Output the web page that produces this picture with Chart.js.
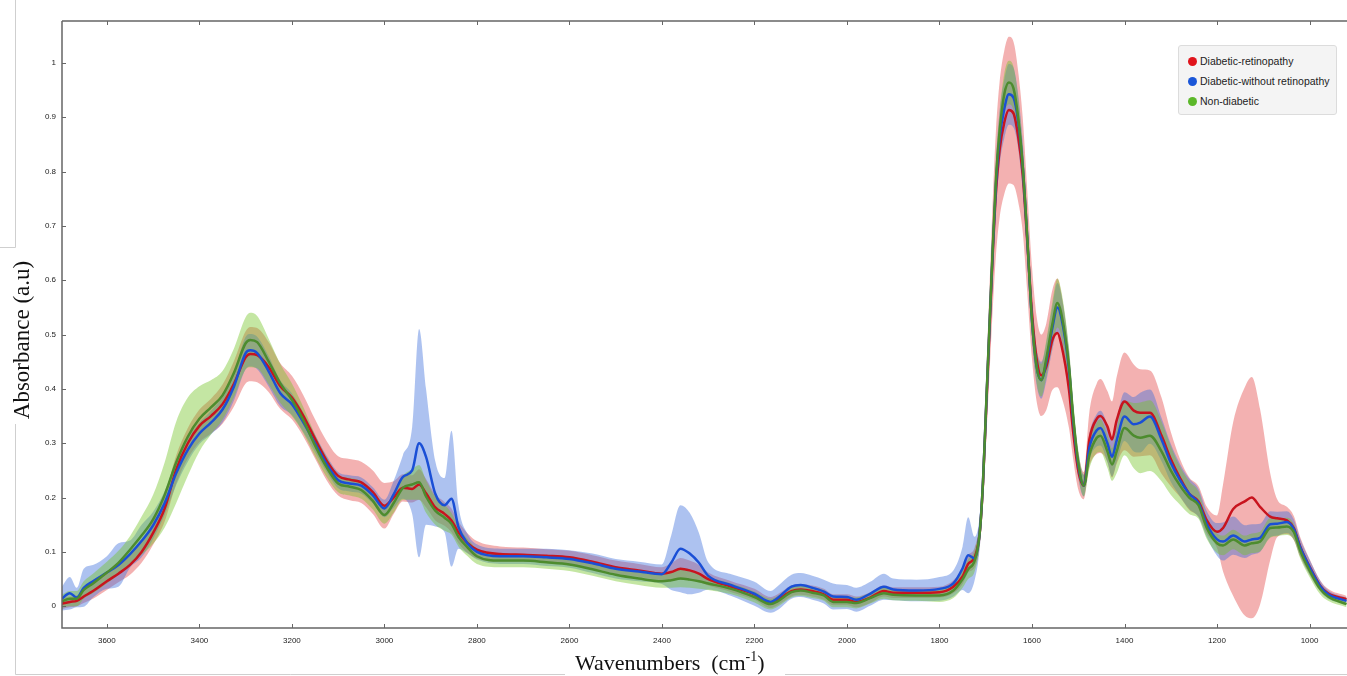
<!DOCTYPE html>
<html>
<head>
<meta charset="utf-8">
<title>FTIR spectra</title>
<script src="https://cdn.jsdelivr.net/npm/chart.js@4.4.1/dist/chart.umd.min.js"></script>
<style>
  body { margin: 0; background: #fff; }
  .wrap { position: relative; width: 1347px; height: 676px; }
  .legend {
    position: absolute; left: 1178px; top: 45px; width: 157px; height: 68px;
    background: #f4f4f4; border: 1px solid #dcdcdc; border-radius: 3px;
    font: 10.5px "Liberation Sans", Arial, sans-serif; color: #222;
  }
  .legend-item { position: absolute; left: 9px; height: 14px; line-height: 14px; white-space: nowrap; }
  .legend-dot { display: inline-block; width: 9px; height: 9px; border-radius: 50%; vertical-align: -1px; margin-right: 3px; }
</style>
</head>
<body>
<div class="wrap">
  <canvas id="chart"></canvas>
  <div class="legend">
    <div class="legend-item" style="top: 8px"><span class="legend-dot" style="background:#e0141c"></span>Diabetic-retinopathy</div>
    <div class="legend-item" style="top: 28px"><span class="legend-dot" style="background:#1a56d8"></span>Diabetic-without retinopathy</div>
    <div class="legend-item" style="top: 48px"><span class="legend-dot" style="background:#5cb82a"></span>Non-diabetic</div>
  </div>
</div>
<script>
// wavenumbers (cm-1)
const wavenumbers = [
  3700, 3680, 3665, 3650, 3630, 3600, 3575, 3550, 3525, 3500,
  3475, 3450, 3425, 3400, 3375, 3350, 3325, 3300, 3290, 3275,
  3250, 3225, 3200, 3175, 3150, 3125, 3100, 3075, 3050, 3025,
  3000, 2980, 2960, 2940, 2925, 2910, 2890, 2870, 2855, 2840,
  2820, 2800, 2750, 2700, 2650, 2600, 2550, 2500, 2450, 2400,
  2380, 2360, 2340, 2320, 2300, 2250, 2200, 2165, 2150, 2120,
  2100, 2075, 2050, 2030, 2000, 1980, 1950, 1920, 1900, 1850,
  1800, 1770, 1750, 1738, 1724, 1713, 1706, 1699, 1692, 1685,
  1678, 1670, 1660, 1650, 1640, 1630, 1620, 1611, 1600, 1590,
  1580, 1569, 1556, 1545, 1537, 1520, 1511, 1500, 1488, 1476,
  1460, 1452, 1437, 1427, 1417, 1400, 1380, 1366, 1345, 1320,
  1300, 1280, 1260, 1240, 1222, 1200, 1187, 1165, 1140, 1125,
  1107, 1085, 1070, 1049, 1034, 1020, 1000, 977, 960, 920,
];

// Diabetic-retinopathy
const drMean = [
  0.004, 0.008, 0.010, 0.018, 0.028, 0.046, 0.060, 0.076, 0.100, 0.135,
  0.180, 0.252, 0.300, 0.332, 0.350, 0.372, 0.410, 0.458, 0.464, 0.462,
  0.440, 0.405, 0.384, 0.350, 0.308, 0.268, 0.240, 0.233, 0.228, 0.210,
  0.185, 0.200, 0.218, 0.216, 0.224, 0.208, 0.182, 0.170, 0.158, 0.136,
  0.116, 0.104, 0.096, 0.095, 0.093, 0.090, 0.082, 0.072, 0.066, 0.060,
  0.063, 0.069, 0.066, 0.060, 0.050, 0.036, 0.022, 0.007, 0.012, 0.028,
  0.031, 0.028, 0.022, 0.012, 0.012, 0.008, 0.016, 0.028, 0.025, 0.025,
  0.026, 0.036, 0.055, 0.078, 0.090, 0.135, 0.225, 0.365, 0.505, 0.645,
  0.760, 0.840, 0.890, 0.913, 0.907, 0.865, 0.794, 0.681, 0.540, 0.455,
  0.425, 0.441, 0.490, 0.503, 0.483, 0.398, 0.321, 0.250, 0.222, 0.307,
  0.345, 0.350, 0.331, 0.307, 0.342, 0.377, 0.360, 0.356, 0.356, 0.314,
  0.271, 0.236, 0.207, 0.193, 0.158, 0.137, 0.144, 0.179, 0.193, 0.200,
  0.183, 0.165, 0.162, 0.158, 0.144, 0.109, 0.073, 0.038, 0.024, 0.013,
];
const drSd = [
  0.010, 0.010, 0.010, 0.012, 0.014, 0.016, 0.016, 0.018, 0.020, 0.022,
  0.024, 0.026, 0.028, 0.030, 0.032, 0.036, 0.042, 0.048, 0.050, 0.050,
  0.046, 0.042, 0.040, 0.038, 0.036, 0.036, 0.036, 0.038, 0.038, 0.040,
  0.042, 0.030, 0.025, 0.025, 0.028, 0.026, 0.024, 0.022, 0.022, 0.020,
  0.018, 0.016, 0.014, 0.013, 0.012, 0.012, 0.012, 0.012, 0.012, 0.012,
  0.016, 0.020, 0.018, 0.016, 0.012, 0.010, 0.010, 0.010, 0.010, 0.010,
  0.010, 0.010, 0.010, 0.010, 0.010, 0.010, 0.010, 0.010, 0.010, 0.010,
  0.010, 0.012, 0.014, 0.016, 0.018, 0.025, 0.040, 0.060, 0.080, 0.100,
  0.115, 0.125, 0.132, 0.135, 0.132, 0.120, 0.105, 0.095, 0.085, 0.078,
  0.075, 0.080, 0.092, 0.100, 0.095, 0.070, 0.050, 0.035, 0.025, 0.050,
  0.065, 0.068, 0.065, 0.070, 0.080, 0.090, 0.085, 0.080, 0.078, 0.070,
  0.050, 0.035, 0.030, 0.028, 0.025, 0.030, 0.080, 0.160, 0.210, 0.222,
  0.180, 0.080, 0.035, 0.025, 0.022, 0.018, 0.014, 0.010, 0.008, 0.006,
];

// Diabetic-without retinopathy
const dwrMean = [
  0.012, 0.024, 0.016, 0.034, 0.046, 0.062, 0.076, 0.096, 0.120, 0.149,
  0.190, 0.245, 0.288, 0.318, 0.338, 0.362, 0.405, 0.466, 0.471, 0.466,
  0.432, 0.392, 0.372, 0.338, 0.300, 0.262, 0.232, 0.226, 0.222, 0.204,
  0.180, 0.206, 0.238, 0.250, 0.300, 0.275, 0.207, 0.186, 0.198, 0.146,
  0.115, 0.100, 0.092, 0.092, 0.090, 0.087, 0.079, 0.069, 0.064, 0.059,
  0.080, 0.106, 0.097, 0.080, 0.056, 0.039, 0.023, 0.008, 0.015, 0.036,
  0.039, 0.034, 0.027, 0.018, 0.017, 0.012, 0.023, 0.036, 0.031, 0.029,
  0.032, 0.042, 0.070, 0.094, 0.088, 0.137, 0.229, 0.370, 0.512, 0.653,
  0.775, 0.862, 0.915, 0.942, 0.936, 0.893, 0.808, 0.688, 0.526, 0.441,
  0.416, 0.450, 0.512, 0.550, 0.533, 0.436, 0.342, 0.260, 0.222, 0.292,
  0.324, 0.328, 0.300, 0.275, 0.305, 0.349, 0.335, 0.338, 0.349, 0.307,
  0.264, 0.232, 0.207, 0.190, 0.151, 0.123, 0.119, 0.130, 0.119, 0.123,
  0.126, 0.151, 0.152, 0.155, 0.142, 0.108, 0.072, 0.037, 0.022, 0.010,
];
const dwrSd = [
  0.020, 0.030, 0.018, 0.035, 0.030, 0.030, 0.040, 0.025, 0.030, 0.025,
  0.022, 0.022, 0.022, 0.020, 0.022, 0.024, 0.026, 0.030, 0.030, 0.030,
  0.028, 0.024, 0.020, 0.018, 0.016, 0.015, 0.015, 0.015, 0.015, 0.015,
  0.016, 0.025, 0.040, 0.080, 0.210, 0.125, 0.060, 0.050, 0.125, 0.040,
  0.018, 0.014, 0.014, 0.014, 0.016, 0.016, 0.018, 0.018, 0.018, 0.018,
  0.050, 0.080, 0.075, 0.055, 0.025, 0.020, 0.022, 0.020, 0.022, 0.022,
  0.022, 0.022, 0.022, 0.024, 0.022, 0.022, 0.022, 0.024, 0.020, 0.020,
  0.022, 0.024, 0.040, 0.070, 0.040, 0.030, 0.030, 0.032, 0.036, 0.040,
  0.045, 0.050, 0.054, 0.056, 0.055, 0.050, 0.045, 0.040, 0.036, 0.034,
  0.034, 0.036, 0.040, 0.045, 0.042, 0.035, 0.030, 0.024, 0.020, 0.025,
  0.030, 0.032, 0.035, 0.036, 0.040, 0.045, 0.050, 0.055, 0.050, 0.040,
  0.035, 0.030, 0.028, 0.026, 0.024, 0.030, 0.035, 0.035, 0.030, 0.028,
  0.026, 0.024, 0.022, 0.020, 0.018, 0.016, 0.014, 0.010, 0.008, 0.006,
];

// Non-diabetic
const ndMean = [
  0.008, 0.014, 0.014, 0.030, 0.042, 0.062, 0.080, 0.104, 0.130, 0.160,
  0.205, 0.265, 0.312, 0.345, 0.366, 0.388, 0.430, 0.484, 0.490, 0.486,
  0.450, 0.410, 0.380, 0.342, 0.296, 0.256, 0.226, 0.220, 0.214, 0.194,
  0.168, 0.190, 0.218, 0.224, 0.228, 0.202, 0.176, 0.163, 0.152, 0.128,
  0.108, 0.092, 0.084, 0.084, 0.081, 0.077, 0.068, 0.058, 0.051, 0.046,
  0.048, 0.051, 0.049, 0.046, 0.042, 0.032, 0.017, 0.004, 0.009, 0.026,
  0.029, 0.025, 0.020, 0.008, 0.008, 0.006, 0.015, 0.024, 0.021, 0.020,
  0.020, 0.029, 0.050, 0.068, 0.084, 0.135, 0.228, 0.372, 0.515, 0.657,
  0.785, 0.875, 0.942, 0.964, 0.953, 0.900, 0.810, 0.690, 0.526, 0.441,
  0.416, 0.456, 0.519, 0.558, 0.540, 0.441, 0.349, 0.264, 0.222, 0.278,
  0.310, 0.314, 0.285, 0.261, 0.285, 0.328, 0.314, 0.310, 0.314, 0.285,
  0.250, 0.222, 0.200, 0.186, 0.144, 0.116, 0.112, 0.123, 0.112, 0.116,
  0.119, 0.144, 0.145, 0.147, 0.137, 0.102, 0.066, 0.032, 0.018, 0.004,
];
const ndSd = [
  0.012, 0.014, 0.014, 0.016, 0.018, 0.020, 0.022, 0.025, 0.035, 0.045,
  0.060, 0.075, 0.072, 0.060, 0.050, 0.045, 0.045, 0.048, 0.050, 0.048,
  0.042, 0.036, 0.030, 0.024, 0.020, 0.018, 0.016, 0.016, 0.016, 0.016,
  0.016, 0.018, 0.022, 0.028, 0.032, 0.030, 0.026, 0.024, 0.020, 0.018,
  0.016, 0.014, 0.012, 0.012, 0.012, 0.012, 0.012, 0.012, 0.012, 0.012,
  0.014, 0.016, 0.015, 0.014, 0.012, 0.010, 0.010, 0.010, 0.010, 0.010,
  0.010, 0.010, 0.010, 0.010, 0.010, 0.010, 0.010, 0.010, 0.010, 0.010,
  0.012, 0.014, 0.016, 0.018, 0.020, 0.020, 0.022, 0.025, 0.028, 0.030,
  0.032, 0.035, 0.038, 0.040, 0.040, 0.038, 0.035, 0.032, 0.030, 0.030,
  0.030, 0.034, 0.040, 0.045, 0.042, 0.035, 0.030, 0.024, 0.020, 0.025,
  0.028, 0.030, 0.030, 0.030, 0.040, 0.050, 0.060, 0.065, 0.065, 0.055,
  0.045, 0.035, 0.030, 0.025, 0.020, 0.018, 0.018, 0.018, 0.018, 0.018,
  0.018, 0.018, 0.016, 0.016, 0.015, 0.014, 0.012, 0.010, 0.008, 0.006,
];

const xTicks = [3600, 3400, 3200, 3000, 2800, 2600, 2400, 2200, 2000, 1800, 1600, 1400, 1200, 1000];
const yTicks = [0, 0.1, 0.2, 0.3, 0.4, 0.5, 0.6, 0.7, 0.8, 0.9, 1];

const points = (vals) => wavenumbers.map((w, i) => ({ x: w, y: vals[i] }));

// mean +/- sd band: upper set fills down to the lower set right after it
const band = (mean, sd, color, order) => [
  {
    data: points(mean.map((m, i) => m + sd[i])),
    fill: "+1",
    backgroundColor: color,
    borderWidth: 0,
    pointRadius: 0,
    cubicInterpolationMode: "monotone",
    order,
  },
  {
    data: points(mean.map((m, i) => m - sd[i])),
    fill: false,
    borderWidth: 0,
    pointRadius: 0,
    cubicInterpolationMode: "monotone",
    order,
  },
];

const line = (label, mean, color, order) => ({
  label,
  data: points(mean),
  borderColor: color,
  borderWidth: 2.5,
  pointRadius: 0,
  fill: false,
  cubicInterpolationMode: "monotone",
  order,
});

// frame, inner tick marks, axis titles and the grey page lines
const decorations = {
  id: "decorations",
  afterDraw(chart) {
    const { ctx, chartArea: a, scales } = chart;
    ctx.save();

    ctx.strokeStyle = "#cfcfcf";
    ctx.lineWidth = 1;
    ctx.beginPath();
    ctx.moveTo(15.5, 0); ctx.lineTo(15.5, 247.5); ctx.lineTo(0, 247.5);
    ctx.moveTo(15.5, 424); ctx.lineTo(15.5, 674.5); ctx.lineTo(565, 674.5);
    ctx.moveTo(785, 674.5); ctx.lineTo(1347, 674.5);
    ctx.stroke();

    ctx.strokeStyle = "#666";
    ctx.lineWidth = 1.5;
    ctx.beginPath();
    ctx.moveTo(a.left, a.top); ctx.lineTo(a.right, a.top);
    ctx.moveTo(a.left, a.top); ctx.lineTo(a.left, a.bottom); ctx.lineTo(a.right, a.bottom);
    ctx.stroke();

    ctx.lineWidth = 1;
    ctx.beginPath();
    xTicks.forEach((v) => {
      const px = Math.round(scales.x.getPixelForValue(v)) + 0.5;
      ctx.moveTo(px, a.bottom); ctx.lineTo(px, a.bottom - 4);
      ctx.moveTo(px, a.top); ctx.lineTo(px, a.top + 4);
    });
    yTicks.forEach((v) => {
      const py = Math.round(scales.y.getPixelForValue(v)) + 0.5;
      ctx.moveTo(a.left, py); ctx.lineTo(a.left + 4, py);
    });
    ctx.stroke();

    ctx.fillStyle = "#111";
    ctx.font = "23px 'Liberation Serif', 'Times New Roman', serif";
    ctx.textBaseline = "middle";
    ctx.textAlign = "center";
    ctx.save();
    ctx.translate(23, 340);
    ctx.rotate(-Math.PI / 2);
    ctx.fillText("Absorbance (a.u)", 0, 0);
    ctx.restore();

    ctx.textAlign = "left";
    ctx.textBaseline = "alphabetic";
    ctx.font = "22px 'Liberation Serif', 'Times New Roman', serif";
    const main = "Wavenumbers  (cm";
    let tx = 575;
    ctx.fillText(main, tx, 670);
    tx += ctx.measureText(main).width;
    ctx.font = "14px 'Liberation Serif', 'Times New Roman', serif";
    ctx.fillText("-1", tx, 661);
    tx += ctx.measureText("-1").width;
    ctx.font = "22px 'Liberation Serif', 'Times New Roman', serif";
    ctx.fillText(")", tx, 670);

    ctx.restore();
  },
};

const tickFont = { family: "'Liberation Sans', Arial, sans-serif", size: 8 };

new Chart(document.getElementById("chart"), {
  type: "line",
  data: {
    datasets: [
      line("Non-diabetic", ndMean, "#4d8c2e", 0),
      line("Diabetic-without retinopathy", dwrMean, "#1a4fd6", 1),
      line("Diabetic-retinopathy", drMean, "#c8141e", 2),
      ...band(ndMean, ndSd, "rgba(115, 195, 35, 0.42)", 3),
      ...band(dwrMean, dwrSd, "rgba(60, 110, 220, 0.42)", 4),
      ...band(drMean, drSd, "rgba(225, 60, 60, 0.40)", 5),
    ],
  },
  options: {
    responsive: true,
    maintainAspectRatio: false,
    animation: false,
    layout: { padding: { top: 21, right: 0, left: 0, bottom: 0 } },
    plugins: { legend: { display: false }, tooltip: { enabled: false } },
    scales: {
      x: {
        type: "linear",
        reverse: true,
        min: 919,
        max: 3697,
        grid: { display: false, drawTicks: false },
        border: { display: false },
        afterBuildTicks: (s) => { s.ticks = xTicks.map((v) => ({ value: v })); },
        afterFit: (s) => { s.height = 48; },
        ticks: { font: tickFont, color: "#222", padding: 8, maxRotation: 0, callback: (v) => String(v) },
      },
      y: {
        min: -0.04,
        max: 1.077,
        grid: { display: false, drawTicks: false },
        border: { display: false },
        afterBuildTicks: (s) => { s.ticks = yTicks.map((v) => ({ value: v })); },
        afterFit: (s) => { s.width = 62; },
        ticks: { font: tickFont, color: "#222", padding: 6, callback: (v) => String(+v.toFixed(1)) },
      },
    },
  },
  plugins: [decorations],
});
</script>
</body>
</html>
